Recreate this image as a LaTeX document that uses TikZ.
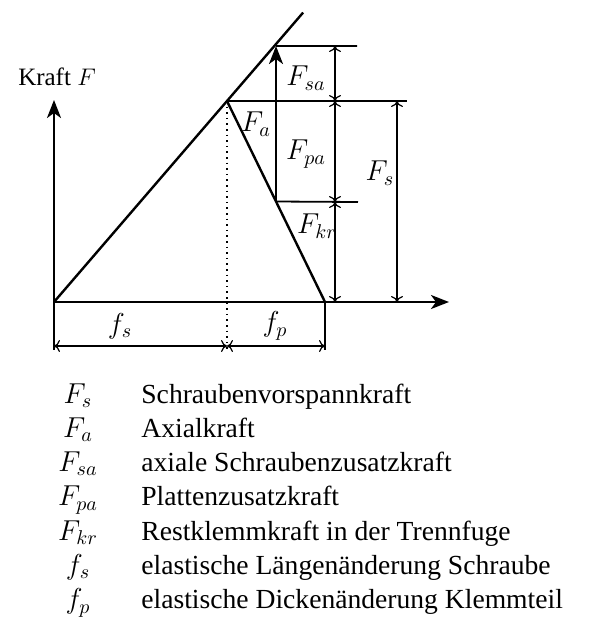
\documentclass[tikz,border=0pt]{standalone}
\usepackage{fontspec}
\setmainfont{Liberation Serif}
\usetikzlibrary{arrows.meta,positioning,calc}

\tikzset{
  achse/.style={line width=1.2pt,-{Stealth[length=9pt,width=7pt,inset=2.5pt]}},
  kennlinie/.style={line width=1.2pt},
  hilfslinie/.style={line width=0.9pt},
  masspfeil/.style={line width=0.6pt,{To[length=3pt,width=6pt]}-{To[length=3pt,width=6pt]}},
  mathlbl/.style={font=\fontsize{14.5}{16}\selectfont,inner sep=1pt},
  txt/.style={font=\fontsize{13.8}{16}\selectfont,inner sep=0pt},
}

\begin{document}
\begin{tikzpicture}[x=0.5pt,y=-0.5pt]
\useasboundingbox (0,0) rectangle (589,623);

% Punkte des Verspannungsdreiecks
\coordinate (O) at (54,302);
\coordinate (yend) at (54,100);
\coordinate (xend) at (449,302);
\coordinate (P) at (227,101);
\coordinate (C) at (325,302);
\coordinate (T) at ($(O)!1.44!(P)$);
\coordinate (A) at ($(O)!1.2736!(P)$);
\coordinate (B) at ($(P)!0.5!(C)$);
\coordinate (Bt) at (B |- A);

% Achsen
\draw[achse] (O) -- (yend);
\draw[achse] (O) -- (xend);
\node[txt,font=\fontsize{12.5}{15}\selectfont] (kraft) at (57,77) {Kraft $F$};

% Kennlinien Schraube und Platte
\draw[kennlinie] (O) -- (T);
\draw[kennlinie] (P) -- (C);
\draw[kennlinie,-{Stealth[length=9pt,width=7pt,inset=2.5pt]}] (B) -- (Bt);

% Hilfslinien
\coordinate (h1) at (357,46);
\coordinate (h2) at (407,101);
\coordinate (h3) at (358,202);
\draw[hilfslinie] (Bt) -- (h1);
\draw[hilfslinie] (P) -- (h2);
\draw[hilfslinie] (B) -- (h3);
\coordinate (v1) at (54,350);
\coordinate (v2) at (C |- v1);
\coordinate (v3) at (P |- v1);
\draw[hilfslinie] (O) -- (v1);
\draw[hilfslinie] (C) -- (v2);
\draw[line width=0.8pt,dotted] (P) -- (v3);

% Kraefte
\coordinate (m1) at (335,46);
\coordinate (m2) at (335,101);
\coordinate (m3) at (335,202);
\coordinate (m4) at (335,302);
\draw[masspfeil] (m1) -- (m2);
\draw[masspfeil] (m2) -- (m3);
\draw[masspfeil] (m3) -- (m4);
\coordinate (s1) at (397,101);
\coordinate (s2) at (397,302);
\draw[masspfeil] (s1) -- (s2);

% Wege
\coordinate (w1) at (54,346);
\coordinate (w2) at (P |- w1);
\coordinate (w3) at (C |- w1);
\draw[masspfeil] (w1) -- (w2);
\draw[masspfeil] (w2) -- (w3);

% Beschriftung
\node[mathlbl] (Fsa) at (306,78) {$F_{sa}$};
\node[mathlbl] (Fa) at (256,124) {$F_a$};
\node[mathlbl] (Fpa) at (306,154) {$F_{pa}$};
\node[mathlbl] (Fs) at (380,173) {$F_s$};
\node[mathlbl] (Fkr) at (317,226) {$F_{kr}$};
\node[mathlbl] (fs) at (120,326) {$f_s$};
\node[mathlbl] (fp) at (275,326) {$f_p$};

% Legende
\foreach \sym/\txt [count=\i] in {F_s/Schraubenvorspannkraft,F_a/Axialkraft,
    F_{sa}/axiale Schraubenzusatzkraft,F_{pa}/Plattenzusatzkraft,
    F_{kr}/Restklemmkraft in der Trennfuge,f_s/elastische Längenänderung Schraube,
    f_p/elastische Dickenänderung Klemmteil} {
  \pgfmathsetmacro{\yy}{403+(\i-1)*34.3}
  \node[mathlbl,anchor=base] (sym\i) at (78,\yy) {$\sym$};
  \node[txt,anchor=base west] (leg\i) at (141,\yy) {\txt};
}
\end{tikzpicture}
\end{document}
